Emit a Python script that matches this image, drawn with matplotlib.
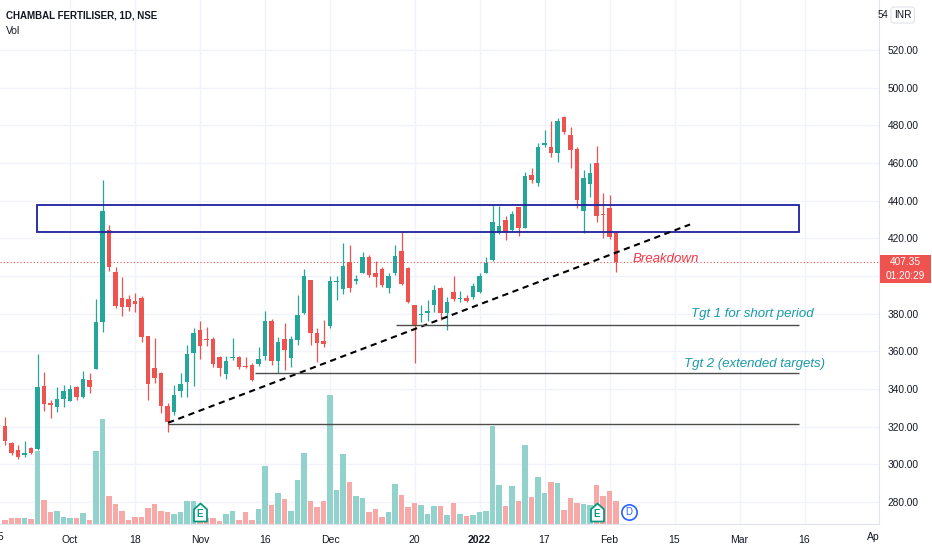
import matplotlib
matplotlib.use("Agg")
import matplotlib.pyplot as plt
from matplotlib.patches import Rectangle
from matplotlib.path import Path
from matplotlib.transforms import Bbox
import numpy as np

plt.rcParams['font.family'] = ['Liberation Sans', 'DejaVu Sans']

# daily candles, CHAMBAL FERTILISER (NSE), mid Sep 2021 -> 2 Feb 2022
opens = [320.3, 311.5, 307.6, 304.9, 308.5, 307.9, 341.6, 332.4, 330.6, 334.5,
         333.8, 340.9, 335.5, 344.7, 350.8, 375.5, 424.4, 402.1, 388.5, 387.6,
         386.9, 388.1, 368.1, 350.9, 348.6, 330.9, 327.9, 339.1, 343.9, 359.3,
         371.3, 366.5, 366.7, 356.8, 347.9, 356.4, 356.8, 352.0, 352.7, 353.1,
         357.7, 376.3, 355.0, 366.5, 356.6, 366.0, 380.1, 397.8, 369.5, 365.6,
         373.4, 396.8, 392.9, 407.2, 397.5, 401.7, 410.2, 401.4, 403.7, 393.4,
         401.4, 413.1, 404.0, 384.6, 379.1, 380.5, 384.6, 393.4, 380.2, 391.7,
         387.9, 388.5, 388.6, 391.7, 401.7, 408.5, 423.5, 429.7, 424.4, 436.4,
         425.5, 453.6, 449.5, 469.5, 468.7, 465.5, 484.6, 474.9, 467.2, 434.7,
         448.8, 459.8, 432.7, 435.9, 422.6]
highs = [325.3, 312.0, 310.2, 312.5, 309.3, 358.6, 349.0, 334.1, 340.9, 342.1,
         342.1, 341.6, 349.7, 348.3, 387.6, 451.0, 427.1, 404.6, 399.3, 389.9,
         390.8, 389.4, 368.1, 366.9, 349.2, 332.4, 342.1, 348.3, 363.3, 372.2,
         376.3, 373.1, 367.8, 357.5, 357.5, 366.9, 357.5, 357.1, 353.6, 362.4,
         381.6, 377.0, 367.8, 374.8, 368.1, 389.9, 403.5, 397.8, 372.2, 376.6,
         400.0, 400.0, 417.7, 416.4, 400.5, 412.9, 411.1, 408.1, 404.6, 401.4,
         416.4, 423.5, 404.6, 384.6, 384.6, 387.2, 395.2, 394.3, 389.0, 400.0,
         392.2, 389.9, 396.4, 401.4, 410.2, 437.7, 437.2, 431.9, 434.7, 436.8,
         455.4, 457.2, 470.8, 477.5, 482.5, 483.7, 484.9, 479.0, 468.7, 456.3,
         460.2, 469.0, 444.2, 443.0, 423.5]
lows = [310.2, 304.9, 302.6, 303.7, 305.4, 307.6, 328.5, 324.4, 327.9, 330.2,
        333.8, 334.1, 335.0, 338.0, 350.8, 370.4, 402.8, 382.8, 378.7, 381.6,
        381.0, 365.1, 334.1, 343.0, 327.0, 317.0, 326.2, 335.9, 335.9, 341.6,
        355.7, 362.8, 351.8, 346.9, 345.1, 355.4, 350.4, 350.9, 344.4, 352.2,
        355.4, 352.7, 348.3, 350.0, 351.8, 363.3, 379.8, 363.3, 354.5, 362.4,
        372.2, 387.2, 390.4, 391.6, 395.7, 401.4, 399.3, 394.0, 394.3, 391.1,
        400.5, 395.2, 385.5, 354.0, 375.7, 376.3, 381.0, 376.6, 371.3, 386.9,
        386.3, 386.3, 387.9, 390.8, 401.4, 408.1, 422.3, 419.1, 424.1, 421.2,
        425.5, 449.5, 447.8, 468.7, 463.4, 460.7, 475.4, 457.2, 435.9, 423.0,
        442.1, 428.8, 420.0, 419.5, 402.3]
closes = [312.5, 306.2, 303.7, 305.8, 306.2, 340.9, 332.0, 331.3, 334.5, 339.1,
          339.8, 335.5, 345.1, 341.2, 375.5, 434.3, 404.6, 384.0, 383.7, 383.3,
          385.1, 367.4, 342.6, 345.6, 330.9, 322.6, 336.8, 342.6, 358.4, 369.5,
          362.8, 366.2, 353.2, 351.1, 354.8, 356.8, 351.8, 351.5, 344.7, 356.1,
          376.1, 355.0, 365.1, 360.7, 366.3, 379.1, 400.0, 369.5, 364.2, 363.9,
          397.3, 397.5, 405.3, 393.4, 398.4, 410.2, 400.5, 399.6, 395.2, 400.0,
          410.6, 395.7, 386.2, 373.4, 379.8, 381.6, 392.5, 380.2, 386.3, 387.6,
          388.5, 386.9, 394.6, 400.0, 406.7, 428.8, 426.5, 423.5, 432.9, 425.5,
          453.1, 451.0, 468.7, 470.8, 465.1, 482.5, 476.6, 466.9, 440.4, 451.9,
          454.9, 431.9, 432.2, 420.9, 407.35]
volumes = [13, 17, 17, 17, 15, 220, 73, 35, 39, 21,
           19, 17, 33, 13, 218, 316, 85, 61, 38, 13,
           22, 20, 49, 59, 38, 36, 31, 35, 68, 68,
           25, 17, 17, 10, 29, 39, 11, 37, 11, 45,
           175, 58, 93, 74, 40, 131, 212, 68, 52, 68,
           388, 103, 210, 127, 85, 77, 37, 45, 20, 35,
           120, 88, 50, 64, 58, 29, 55, 55, 27, 64,
           31, 25, 27, 35, 40, 293, 117, 53, 115, 70,
           237, 82, 140, 92, 125, 123, 42, 77, 63, 60,
           57, 118, 83, 99, 70]
vol_axis_max = 1572  # volume units spanning the full pane height

last_price = 407.35
price_ticks = list(range(280, 521, 20))

date_labels = ['Oct', '18', 'Nov', '16', 'Dec', '20', '2022', '17', 'Feb', '15', 'Mar', '16']
date_pos = [10, 20, 30, 40, 50, 63, 73, 83, 93, 103, 113, 123]

# drawings on the chart (bar index, price)
box_x = [4.9, 122.2]
box_prices = [423.2, 437.7]
trend_x = [25.1, 105.4]
trend_prices = [322.1, 427.4]
target_prices = [373.9, 348.5, 321.4]
target_start = [60.2, 38.5, 25.1]
line_end = 122.2
earnings_bars = [30, 91]
dividend_bars = [96]

GREEN, RED = '#26a69a', '#ef5350'
GREEN_VOL, RED_VOL = '#92d2cc', '#f7a9a7'
TEXT = '#131722'

fig = plt.figure(figsize=(9.32, 5.5), dpi=100)
ax = fig.add_axes([0, 26 / 550, 879 / 932, 524 / 550])

o, h, l, c = map(np.array, (opens, highs, lows, closes))
x = np.arange(len(o))
up = c >= o
col = np.where(up, GREEN, RED)
vcol = np.where(up, GREEN_VOL, RED_VOL)

# volume pane at the bottom, heights in axes fraction
ax.bar(x, np.array(volumes) / vol_axis_max, width=0.78, bottom=0, color=vcol,
       transform=ax.get_xaxis_transform(), zorder=1)

ax.vlines(x, l, h, colors=col, lw=0.9, zorder=3)
ax.bar(x, np.maximum(np.abs(c - o), 0.4), bottom=np.minimum(o, c), width=0.68,
       color=col, zorder=4)

ax.axhline(last_price, color=RED, ls=(0, (1, 2)), lw=0.8, zorder=2)

ax.add_patch(Rectangle((box_x[0], box_prices[0]), box_x[1] - box_x[0],
                       box_prices[1] - box_prices[0], fill=False,
                       ec='#1f1fa0', lw=1.3, zorder=5))
ax.plot(trend_x, trend_prices, color='black', ls=(0, (3, 2.2)), lw=1.5, zorder=5)
ax.hlines(target_prices, target_start, line_end, colors='#4d4d4d', lw=1, zorder=5)

ax.text(96.5, 409.0, 'Breakdown', color='#f23645', style='italic', fontsize=9.5,
        ha='left', va='center', zorder=6)
ax.text(105.5, 379.8, 'Tgt 1 for short period', color='#1b9aa8', style='italic',
        fontsize=9.5, ha='left', va='center', zorder=6)
ax.text(104.5, 353.2, 'Tgt 2 (extended targets)', color='#1b9aa8', style='italic',
        fontsize=9.5, ha='left', va='center', zorder=6)

# earnings / dividend flags
house = Path([(-0.72, -1), (0.72, -1), (0.72, 0.35), (0, 1), (-0.72, 0.35), (-0.72, -1)],
             [Path.MOVETO] + [Path.LINETO] * 4 + [Path.CLOSEPOLY])
xt = ax.get_xaxis_transform()
ax.plot(earnings_bars, [0.023] * len(earnings_bars), transform=xt, marker=house,
        ms=13, mfc='white', mec='#089981', mew=1.3, ls='none', zorder=7)
for e in earnings_bars:
    ax.text(e, 0.020, 'E', transform=xt, color='#089981', fontsize=7, weight='bold',
            ha='center', va='center', zorder=8)
ax.plot(dividend_bars, [0.023] * len(dividend_bars), transform=xt, marker='o',
        ms=11, mfc='white', mec='#2962ff', mew=1.2, ls='none', zorder=7)
for d in dividend_bars:
    ax.text(d, 0.023, 'D', transform=xt, color='#2962ff', fontsize=7,
            ha='center', va='center', zorder=8)

ax.set_xlim(-0.77, 134.46)
ax.set_ylim(268.3, 546.6)

ax.set_yticks(price_ticks)
# the label hidden behind the last-price tag is left blank
ax.set_yticklabels(['' if abs(p - last_price) < 10 else f'{p:.2f}' for p in price_ticks])
ax.yaxis.tick_right()
ax.tick_params(axis='y', length=0, pad=6, labelsize=7.3, colors=TEXT)
ax.set_xticks(date_pos)
ax.set_xticklabels(date_labels)
ax.tick_params(axis='x', length=0, pad=8, labelsize=7.5, colors=TEXT)
for t in ax.get_xticklabels():
    if t.get_text() == '2022':
        t.set_fontweight('bold')
ax.grid(True, color='#f0f3fa', lw=1)
ax.set_axisbelow(True)
for s in ('top', 'left'):
    ax.spines[s].set_visible(False)
for s in ('right', 'bottom'):
    ax.spines[s].set_color('#e0e3eb')

# partially visible date labels at both edges
ax.text(-1.0, -13 / 524, '15', transform=xt, ha='center', va='center',
        fontsize=7.5, color=TEXT, clip_on=False)
apr = ax.text(133.8, -13 / 524, 'Apr', transform=xt, ha='center', va='center',
              fontsize=7.5, color=TEXT)
apr.set_clip_box(Bbox.from_extents(0, 0, 879, 550))
apr.set_clip_on(True)

# last price tag on the price scale
fig.add_artist(Rectangle((880 / 932, (550 - 283) / 550), 51 / 932, 28 / 550,
                         transform=fig.transFigure, fc=RED, ec='none', zorder=5))
fig.text(905 / 932, 1 - 262 / 550, f'{last_price:.2f}', color='white', fontsize=7.3,
         ha='center', va='center', zorder=6)
fig.text(905 / 932, 1 - 276 / 550, '01:20:29', color='white', fontsize=7.3,
         ha='center', va='center', zorder=6)

fig.text(888 / 932, 1 - 15 / 550, '54', fontsize=7, color=TEXT, va='center', ha='right')
fig.text(894 / 932, 1 - 15 / 550, 'INR', fontsize=7.3, color=TEXT, va='center',
         bbox=dict(boxstyle='round,pad=0.3', fc='white', ec='#e0e3eb', lw=0.8))

fig.text(6 / 932, 1 - 15 / 550, 'CHAMBAL FERTILISER, 1D, NSE', fontsize=7,
         weight='bold', color=TEXT, va='center')
fig.text(6 / 932, 1 - 31 / 550, 'Vol', fontsize=7.5, color=TEXT, va='center')

fig.savefig('out.png', dpi=100)
